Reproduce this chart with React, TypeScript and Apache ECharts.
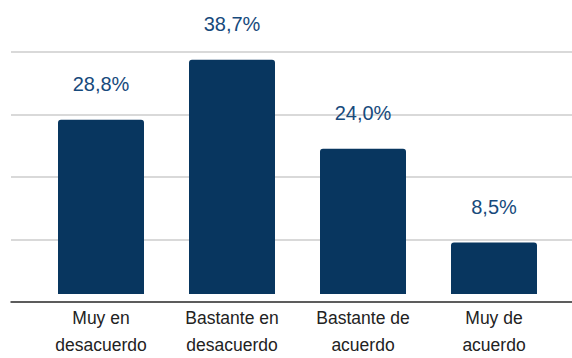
import React, { useEffect, useRef } from "react";
import * as echarts from "echarts";

const categories = ["Muy en\ndesacuerdo", "Bastante en\ndesacuerdo", "Bastante de\nacuerdo", "Muy de\nacuerdo"];
const values = [28.8, 38.7, 24.0, 8.5];
const valueLabels = ["28,8%", "38,7%", "24,0%", "8,5%"];

export default function App() {
  const ref = useRef<HTMLDivElement>(null);
  useEffect(() => {
    const chart = echarts.init(ref.current!, null, { renderer: "svg" });
    chart.setOption({
      animation: false,
      backgroundColor: "#ffffff",
      grid: [
        { left: 11, right: 0, top: 52, bottom: 56, containLabel: false },
        { left: 35.5, right: 12.5, top: 52, bottom: 56, containLabel: false },
      ],
      xAxis: [
        {
          type: "category",
          gridIndex: 0,
          data: ["a"],
          axisLine: { show: true, lineStyle: { color: "#333333", width: 1.5 } },
          axisTick: { show: false },
          axisLabel: { show: false },
        },
        {
          type: "category",
          gridIndex: 1,
          data: categories,
          axisLine: { show: false },
          axisTick: { show: false },
          axisLabel: {
            color: "#222222",
            fontFamily: "Liberation Sans, Arial, sans-serif",
            fontSize: 17.5,
            lineHeight: 27,
            margin: 10,
          },
        },
      ],
      yAxis: [
        {
          type: "value",
          gridIndex: 0,
          min: 0,
          max: 40,
          interval: 10,
          axisLine: { show: false },
          axisTick: { show: false },
          axisLabel: { show: false },
          splitLine: { lineStyle: { color: "#cccccc", width: 1.5 } },
        },
        {
          type: "value",
          gridIndex: 1,
          min: 0,
          max: 40,
          interval: 10,
          axisLine: { show: false },
          axisTick: { show: false },
          axisLabel: { show: false },
          splitLine: { show: false },
        },
      ],
      series: [
        {
          type: "bar",
          xAxisIndex: 1,
          yAxisIndex: 1,
          data: values,
          barWidth: 86,
          itemStyle: { color: "#08365f", borderRadius: [3, 3, 0, 0] },
          label: {
            show: true,
            position: "top",
            distance: 26,
            color: "#174a7c",
            fontFamily: "Liberation Sans, Arial, sans-serif",
            fontSize: 20,
            formatter: (p: any) => valueLabels[p.dataIndex],
          },
          z: 3,
        },
      ],
    });
    return () => chart.dispose();
  }, []);
  return (
    <div
      ref={ref}
      style={{ position: "fixed", left: 0, top: 0, width: 572, height: 358 }}
    />
  );
}
